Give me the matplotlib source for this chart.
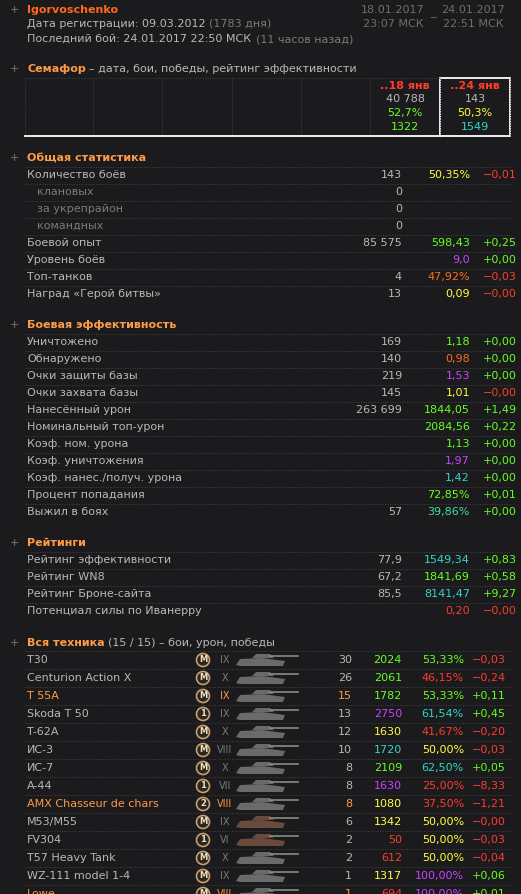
import matplotlib.pyplot as plt
from matplotlib.patches import Rectangle, Circle, Polygon

BG = "#1b1b1e"
GREY = "#b8b8b8"
DIM = "#7a7a7a"
ORANGE = "#ff9a45"
RED = "#ff3b2a"
GREEN = "#66ff22"
YELLOW = "#ffff40"
PURPLE = "#c844ff"
CYAN = "#33d6c4"
ORG2 = "#ff6a1a"
col = {"g": GREEN, "r": RED, "y": YELLOW, "p": PURPLE, "c": CYAN, "o": ORG2, "w": GREY, "t": "#3fe0a0"}

# общая статистика
gen_names = ["Количество боёв", "клановых", "за укрепрайон", "командных", "Боевой опыт",
             "Уровень боёв", "Топ-танков", "Наград «Герой битвы»"]
gen_counts = ["143", "0", "0", "0", "85 575", "", "4", "13"]
gen_vals = ["50,35%", "", "", "", "598,43", "9,0", "47,92%", "0,09"]
gen_vcol = ["y", "", "", "", "g", "p", "o", "y"]
gen_delta = ["−0,01", "", "", "", "+0,25", "+0,00", "−0,03", "−0,00"]

# боевая эффективность
eff_names = ["Уничтожено", "Обнаружено", "Очки защиты базы", "Очки захвата базы", "Нанесённый урон",
             "Номинальный топ-урон", "Коэф. ном. урона", "Коэф. уничтожения",
             "Коэф. нанес./получ. урона", "Процент попадания", "Выжил в боях"]
eff_counts = ["169", "140", "219", "145", "263 699", "", "", "", "", "", "57"]
eff_vals = ["1,18", "0,98", "1,53", "1,01", "1844,05", "2084,56", "1,13", "1,97", "1,42", "72,85%", "39,86%"]
eff_vcol = ["g", "o", "p", "y", "g", "g", "g", "p", "c", "g", "t"]
eff_delta = ["+0,00", "+0,00", "+0,00", "−0,00", "+1,49", "+0,22", "+0,00", "+0,00", "+0,00", "+0,01", "+0,00"]

# рейтинги
rat_names = ["Рейтинг эффективности", "Рейтинг WN8", "Рейтинг Броне-сайта", "Потенциал силы по Иванерру"]
rat_counts = ["77,9", "67,2", "85,5", ""]
rat_vals = ["1549,34", "1841,69", "8141,47", "0,20"]
rat_vcol = ["c", "g", "c", "r"]
rat_delta = ["+0,83", "+0,58", "+9,27", "−0,00"]

# вся техника
tanks = ["T30", "Centurion Action X", "T 55A", "Skoda T 50", "T-62A", "ИС-3", "ИС-7", "A-44",
         "AMX Chasseur de chars", "M53/M55", "FV304", "T57 Heavy Tank", "WZ-111 model 1-4", "Lowe"]
t_orange = [False, False, True, False, False, False, False, False, True, False, False, False, False, True]
t_badge = ["M", "M", "M", "1", "M", "M", "M", "1", "2", "M", "1", "M", "M", "M"]
t_tier = ["IX", "X", "IX", "IX", "X", "VIII", "X", "VII", "VIII", "IX", "VI", "X", "IX", "VIII"]
t_battles = [30, 26, 15, 13, 12, 10, 8, 8, 8, 6, 2, 2, 1, 1]
t_dmg = [2024, 2061, 1782, 2750, 1630, 1720, 2109, 1630, 1080, 1342, 50, 612, 1317, 694]
t_dcol = ["g", "g", "g", "p", "y", "c", "g", "p", "y", "y", "r", "r", "y", "r"]
t_win = ["53,33%", "46,15%", "53,33%", "61,54%", "41,67%", "50,00%", "62,50%", "25,00%",
         "37,50%", "50,00%", "50,00%", "50,00%", "100,00%", "100,00%"]
t_wcol = ["g", "r", "g", "c", "r", "y", "c", "r", "r", "y", "y", "y", "p", "p"]
t_delta = ["−0,03", "−0,24", "+0,11", "+0,45", "−0,20", "−0,03", "+0,05", "−8,33",
           "−1,21", "−0,00", "−0,03", "−0,04", "+0,06", "+0,01"]
t_brown = [False] * 9 + [True, True] + [False] * 3

fig = plt.figure(figsize=(5.21, 8.94), dpi=100, facecolor=BG)
ax = fig.add_axes([0, 0, 1, 1])
ax.set_xlim(0, 521)
ax.set_ylim(894, 0)
ax.axis("off")
ax.set_facecolor(BG)

FS = 8


def t(x, y, s, c=GREY, ha="left", bold=False, size=FS):
    ax.text(x, y, s, color=c, ha=ha, va="center", fontsize=size,
            fontweight="bold" if bold else "normal", family="DejaVu Sans")


def dots(y, x0=25, x1=510):
    ax.plot([x0, x1], [y, y], color="#424246", lw=0.7, ls=(0, (1, 1.5)))


def dcol(s):
    return GREEN if s.startswith("+") else RED


# шапка
t(10, 10, "+", DIM)
t(27, 10, "Igorvoschenko", ORG2, bold=True)
t(27, 24, "Дата регистрации: 09.03.2012", GREY)
t(209, 24, "(1783 дня)", DIM)
t(27, 39, "Последний бой: 24.01.2017 22:50 МСК", GREY)
t(256, 39, "(11 часов назад)", DIM)
t(393, 10, "18.01.2017", "#6e6e6e", ha="center")
t(393, 24, "23:07 МСК", "#6e6e6e", ha="center")
t(433, 13, "_", "#6e6e6e", ha="center")
t(473, 10, "24.01.2017", "#6e6e6e", ha="center")
t(473, 24, "22:51 МСК", "#6e6e6e", ha="center")

# семафор
t(10, 69, "+", DIM)
t(27, 69, "Семафор", ORANGE, bold=True)
t(89, 69, "– дата, бои, победы, рейтинг эффективности", GREY)
for xd in [25, 93, 162, 232, 301, 370, 440, 510]:
    ax.plot([xd, xd], [78, 137], color="#424246", lw=0.7, ls=(0, (1, 1.5)))
dots(78, 25, 440)
ax.plot([25, 440], [136, 136], color="white", lw=1.3)
ax.add_patch(Rectangle((440, 78), 70, 58, fill=False, ec="white", lw=1.3))
for xc, lab, b, w, wc, r, rc in [(405, "18 янв", "40 788", "52,7%", GREEN, "1322", GREEN),
                                 (475, "24 янв", "143", "50,3%", YELLOW, "1549", CYAN)]:
    t(xc, 86, ".." + lab, RED, ha="center", bold=True)
    t(xc, 99, b, GREY, ha="center")
    t(xc, 113, w, wc, ha="center")
    t(xc, 127, r, rc, ha="center")


def section(y0, title, names, counts, vals, vcols, deltas, indent=()):
    t(10, y0, "+", DIM)
    t(27, y0, title, ORANGE, bold=True)
    for i, n in enumerate(names):
        y = y0 + 17 * (i + 1)
        dots(y - 8.5)
        sub = i in indent
        t(37 if sub else 27, y, n, DIM if sub else GREY)
        t(402, y, counts[i], GREY, ha="right")
        if vals[i]:
            t(470, y, vals[i], col[vcols[i]], ha="right")
        if deltas[i]:
            t(517, y, deltas[i], dcol(deltas[i]), ha="right")


section(158, "Общая статистика", gen_names, gen_counts, gen_vals, gen_vcol, gen_delta, indent=(1, 2, 3))
section(325, "Боевая эффективность", eff_names, eff_counts, eff_vals, eff_vcol, eff_delta)
section(543, "Рейтинги", rat_names, rat_counts, rat_vals, rat_vcol, rat_delta)

# техника
t(10, 643, "+", DIM)
t(27, 643, "Вся техника", ORANGE, bold=True)
t(108, 643, "(15 / 15) – бои, урон, победы", GREY)
for i, n in enumerate(tanks):
    y = 660 + 18 * i
    dots(y - 9)
    nc = ORANGE if t_orange[i] else GREY
    t(27, y, n, nc)
    ax.add_patch(Circle((203, y), 6.5, fc="#2a2520", ec="#c8a070", lw=1.2))
    t(203, y, t_badge[i], "#f0e0c0", ha="center", bold=True, size=6)
    t(225, y, t_tier[i], ORANGE if t_orange[i] else DIM, ha="center", size=7)
    tc = "#6a4a3a" if t_brown[i] else "#6a6a68"
    ax.add_patch(Polygon([(236, y + 5), (240, y - 1), (262, y - 2), (285, y + 1), (283, y + 6), (240, y + 6)],
                         closed=True, fc=tc, ec="none"))
    ax.add_patch(Polygon([(252, y - 2), (256, y - 6), (270, y - 6), (274, y - 2)], closed=True, fc=tc, ec="none"))
    ax.plot([270, 298], [y - 4, y - 4], color="#8a8a88", lw=1.2)
    t(352, y, str(t_battles[i]), ORANGE if t_orange[i] else GREY, ha="right")
    t(402, y, str(t_dmg[i]), col[t_dcol[i]], ha="right")
    t(464, y, t_win[i], col[t_wcol[i]], ha="right")
    t(506, y, t_delta[i], dcol(t_delta[i]), ha="right")

fig.savefig("out.png", dpi=100, facecolor=BG)
